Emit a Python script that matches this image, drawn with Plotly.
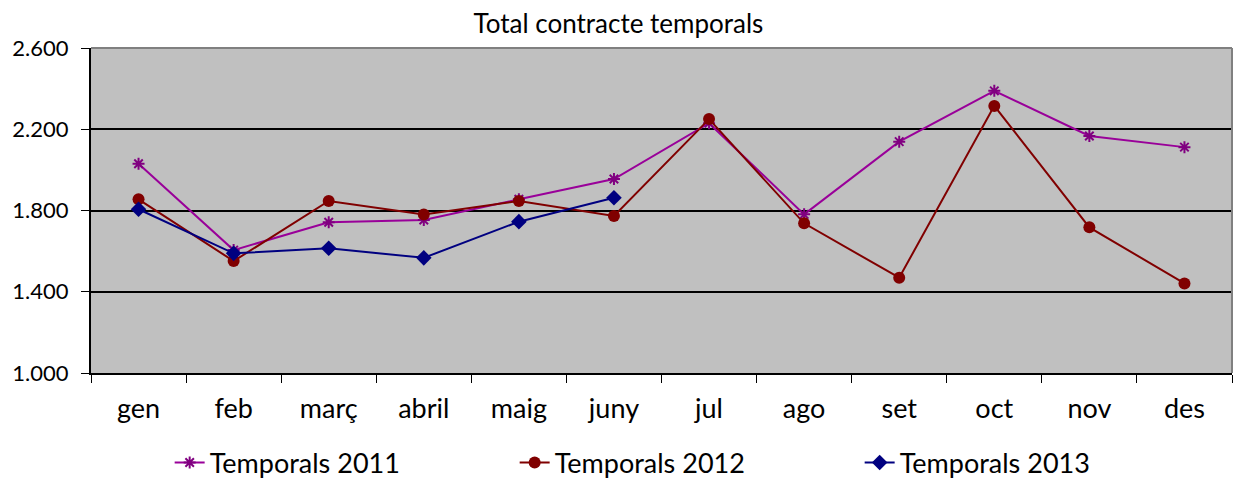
import plotly.graph_objects as go

months = ["gen", "feb", "març", "abril", "maig", "juny", "jul", "ago", "set", "oct", "nov", "des"]
temporals_2011 = [2030, 1605, 1742, 1753, 1855, 1955, 2230, 1781, 2139, 2389, 2167, 2112]
temporals_2012 = [1855, 1551, 1847, 1780, 1847, 1773, 2250, 1737, 1469, 2315, 1717, 1441]
temporals_2013 = [1806, 1589, 1614, 1567, 1745, 1863]
y_ticks = [1000, 1400, 1800, 2200, 2600]

FONT = "Lato"

fig = go.Figure()
fig.add_trace(go.Scatter(
    x=months, y=temporals_2011, name="Temporals 2011", mode="lines+markers",
    line=dict(color="#990099", width=2),
    marker=dict(symbol="asterisk-open", size=10, color="#800080", line=dict(width=2, color="#800080")),
))
fig.add_trace(go.Scatter(
    x=months, y=temporals_2012, name="Temporals 2012", mode="lines+markers",
    line=dict(color="#800000", width=2),
    marker=dict(symbol="circle", size=12, color="#800000"),
))
fig.add_trace(go.Scatter(
    x=months[:len(temporals_2013)], y=temporals_2013, name="Temporals 2013", mode="lines+markers",
    line=dict(color="#000080", width=2),
    marker=dict(symbol="diamond", size=12, color="#000080"),
))

fig.update_layout(
    width=1233, height=478,
    margin=dict(l=91, r=1, t=48, b=105, autoexpand=False),
    paper_bgcolor="white", plot_bgcolor="#C0C0C0",
    separators=",.",
    font=dict(family=FONT, color="black"),
    title=dict(text="Total contracte temporals", x=0.5016, xanchor="center",
               y=0.95, yanchor="middle",
               font=dict(size=26, family=FONT, color="black")),
    showlegend=True,
    legend=dict(orientation="h", xref="container", yref="container",
                x=0.1376, xanchor="left", y=0.0314, yanchor="middle",
                font=dict(size=27, family=FONT), entrywidth=300,
                bgcolor="rgba(0,0,0,0)"),
    xaxis=dict(type="category", categoryorder="array", categoryarray=months,
               tickson="boundaries", ticks="outside", ticklen=8, tickcolor="black",
               showline=True, linecolor="black", linewidth=2, showgrid=False,
               ticklabelstandoff=11,
               tickfont=dict(size=27, family=FONT), range=[-0.5, 11.5]),
    yaxis=dict(range=[1000, 2600], tickvals=y_ticks, tickformat=",d",
               ticks="outside", ticklen=8, tickcolor="black",
               showline=True, linecolor="black", linewidth=2,
               ticklabelstandoff=8,
               showgrid=True, gridcolor="black", gridwidth=2,
               tickfont=dict(size=22, family=FONT), zeroline=False),
    shapes=[
        dict(type="line", xref="paper", yref="paper", x0=0, x1=1, y0=1, y1=1,
             line=dict(color="#808080", width=2), layer="above"),
        dict(type="line", xref="paper", yref="paper", x0=1, x1=1, y0=0, y1=1,
             line=dict(color="#808080", width=2), layer="above"),
    ],
)

fig.write_html("out.html", config={"displayModeBar": False},
               post_script="document.body.style.margin='0px';")
